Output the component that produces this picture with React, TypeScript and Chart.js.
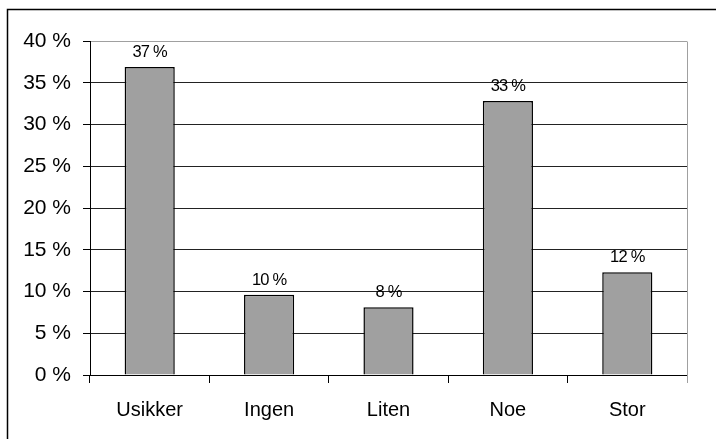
import React, { useEffect, useRef } from "react";
import { Chart, registerables } from "chart.js";

Chart.register(...registerables);

const categories = ["Usikker", "Ingen", "Liten", "Noe", "Stor"];
const values = [36.9, 9.6, 8.1, 32.8, 12.3];
const labelValues = [37, 10, 8, 33, 12];
const yTicks = [0, 5, 10, 15, 20, 25, 30, 35, 40];

const framePlugin = {
  id: "framePlugin",
  beforeDraw(chart: any) {
    const { ctx, width, height } = chart;
    ctx.save();
    ctx.fillStyle = "#ffffff";
    ctx.fillRect(0, 0, width, height);
    ctx.strokeStyle = "#000000";
    ctx.lineWidth = 1.5;
    ctx.beginPath();
    ctx.moveTo(7.5, height + 2);
    ctx.lineTo(7.5, 9.5);
    ctx.lineTo(width + 2, 9.5);
    ctx.stroke();
    ctx.restore();
  },
  afterDraw(chart: any) {
    const { ctx, chartArea } = chart;
    ctx.save();
    ctx.strokeStyle = "#a0a0a0";
    ctx.lineWidth = 1;
    ctx.beginPath();
    const x = Math.round(chartArea.right) + 0.5;
    ctx.moveTo(x, Math.round(chartArea.top) + 0.5);
    ctx.lineTo(x, chartArea.bottom + 8);
    ctx.stroke();
    ctx.restore();
  },
};

const dataLabelPlugin = {
  id: "dataLabelPlugin",
  afterDatasetsDraw(chart: any) {
    const { ctx } = chart;
    const meta = chart.getDatasetMeta(0);
    ctx.save();
    ctx.font = "16.5px Arial, 'Liberation Sans', sans-serif";
    (ctx as any).letterSpacing = "-0.8px";
    ctx.fillStyle = "#000000";
    ctx.textAlign = "center";
    ctx.textBaseline = "alphabetic";
    meta.data.forEach((bar: any, i: number) => {
      ctx.fillText(labelValues[i] + " %", bar.x, bar.y - 10);
    });
    ctx.restore();
  },
};

export default function App() {
  const ref = useRef<HTMLCanvasElement | null>(null);
  useEffect(() => {
    if (!ref.current) return;
    const chart = new Chart(ref.current, {
      type: "bar",
      data: {
        labels: categories,
        datasets: [
          {
            data: values,
            backgroundColor: "#a0a0a0",
            borderColor: "#000000",
            borderWidth: 1.5,
            categoryPercentage: 1,
            barPercentage: 0.42,
          },
        ],
      },
      options: {
        responsive: false,
        animation: false,
        devicePixelRatio: 1,
        layout: { padding: { left: 0, right: 29, top: 41, bottom: 0 } },
        plugins: {
          legend: { display: false },
          tooltip: { enabled: false },
        },
        scales: {
          x: {
            offset: true,
            grid: {
              display: true,
              drawOnChartArea: false,
              drawTicks: true,
              tickLength: 8,
              offset: true,
              color: "#000000",
              tickColor: "#000000",
            },
            border: { display: true, color: "#000000", width: 1 },
            ticks: {
              color: "#000000",
              padding: 15,
              maxRotation: 0,
              font: { family: "Arial, 'Liberation Sans', sans-serif", size: 20 },
            },
            afterFit(scale: any) {
              scale.height = 64;
            },
          },
          y: {
            min: 0,
            max: 40,
            afterBuildTicks(scale: any) {
              scale.ticks = yTicks.map((v) => ({ value: v }));
            },
            grid: {
              drawTicks: true,
              tickLength: 7,
              color: (c: any) => (c.tick && c.tick.value === 40 ? "#a0a0a0" : "#222222"),
              tickColor: "#000000",
            },
            border: { display: true, color: "#000000", width: 1 },
            ticks: {
              color: "#000000",
              padding: 12,
              callback: (v: any) => v + " %",
              font: { family: "Arial, 'Liberation Sans', sans-serif", size: 21 },
            },
            afterFit(scale: any) {
              scale.width = 90;
            },
          },
        },
      },
      plugins: [framePlugin, dataLabelPlugin],
    });
    return () => chart.destroy();
  }, []);
  return (
    <div style={{ position: "absolute", left: 0, top: 0, width: 716, height: 439 }}>
      <canvas ref={ref} width={716} height={439} style={{ display: "block", width: 716, height: 439 }} />
    </div>
  );
}
